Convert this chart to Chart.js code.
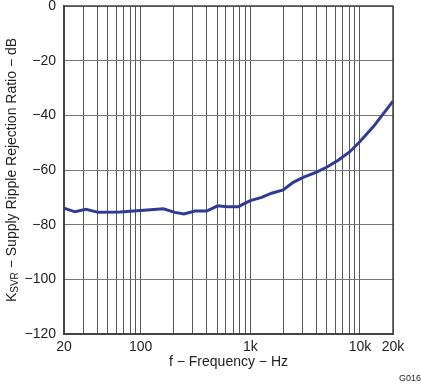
<!DOCTYPE html>
<html><head><meta charset="utf-8">
<script src="https://cdn.jsdelivr.net/npm/chart.js@4"></script>
<style>html,body{margin:0;padding:0;background:#fff}#wrap{width:421px;height:384px;position:relative}</style>
</head><body><div id="wrap"><canvas id="c" width="421" height="384"></canvas></div>
<script>
const freqHz = [20,25.2,31.7,41,64.8,100,161,205,248,313,400,504,608,776,1000,1268,1564,1995,2461,3034,4017,4955,6325,8090,10000,13200,20000];
const ksvrDb = [-74,-75.3,-74.4,-75.5,-75.4,-74.8,-74.2,-75.5,-76.1,-75,-75,-73.1,-73.4,-73.4,-71.2,-70.0,-68.5,-67.3,-64.5,-62.7,-60.8,-59.0,-56.4,-53.3,-49.6,-44.2,-34.8];
const xGridValues = [20,30,40,50,60,70,80,90,100,200,300,400,500,600,700,800,900,1000,2000,3000,4000,5000,6000,7000,8000,9000,10000,20000];
const xTickLabels = {20:'20',100:'100',1000:'1k',10000:'10k',20000:'20k'};
const yTicks = [0,-20,-40,-60,-80,-100,-120];

const FONT = 'Liberation Sans, Arial, sans-serif';

const titlePlugin = {
  id:'titles',
  afterDraw(chart){
    const ctx = chart.ctx, a = chart.chartArea;
    ctx.save();
    ctx.fillStyle = '#222';
    ctx.font = '14px ' + FONT;
    ctx.textAlign = 'center'; ctx.textBaseline = 'middle';
    ctx.fillText('f \u2212 Frequency \u2212 Hz', (a.left + a.right)/2, 362);
    ctx.translate(12, (a.top + a.bottom)/2);
    ctx.rotate(-Math.PI/2);
    const p1 = 'K', p2 = 'SVR', p3 = ' \u2212 Supply Ripple Rejection Ratio \u2212 dB';
    ctx.font = '14px ' + FONT; const w1 = ctx.measureText(p1).width, w3 = ctx.measureText(p3).width;
    ctx.font = '10px ' + FONT; const w2 = ctx.measureText(p2).width;
    let x = -(w1+w2+w3)/2;
    ctx.textAlign = 'left';
    ctx.font = '14px ' + FONT; ctx.fillText(p1, x, 0); x += w1;
    ctx.font = '10px ' + FONT; ctx.fillText(p2, x, 3); x += w2;
    ctx.font = '14px ' + FONT; ctx.fillText(p3, x, 0);
    ctx.restore();
    ctx.save();
    ctx.fillStyle = '#222';
    ctx.font = '9px ' + FONT; ctx.textAlign = 'right'; ctx.textBaseline = 'middle';
    ctx.fillText('G016', 421, 379);
    ctx.restore();
  }
};

new Chart(document.getElementById('c'), {
  type:'line',
  data:{datasets:[{data: freqHz.map((f,i)=>({x:f,y:ksvrDb[i]})), borderColor:'#2f3b94', borderWidth:3, pointRadius:0, tension:0, fill:false}]},
  options:{
    responsive:false, animation:false, devicePixelRatio:1,
    layout:{padding:{top:6,right:28,left:0,bottom:0}},
    plugins:{legend:{display:false}, tooltip:{enabled:false}},
    scales:{
      x:{type:'logarithmic', min:20, max:20000,
        afterBuildTicks(s){ s.ticks = xGridValues.map(v=>({value:v})); },
        afterFit(s){ s.height = 50; s.paddingLeft = 0; s.paddingRight = 0; },
        ticks:{autoSkip:false, maxRotation:0, padding:5, color:'#222', font:{family:FONT,size:14},
          callback:(v)=> xTickLabels[v] || ''},
        grid:{color:'#555', lineWidth:1, drawTicks:false},
        border:{color:'#444', width:2}
      },
      y:{type:'linear', min:-120, max:0,
        afterBuildTicks(s){ s.ticks = yTicks.map(v=>({value:v})); },
        afterFit(s){ s.width = 64; s.paddingTop = 0; s.paddingBottom = 0; },
        ticks:{padding:8, color:'#222', font:{family:FONT,size:14},
          callback:(v)=> v<0 ? '\u2212'+Math.abs(v) : String(v)},
        grid:{color:'#777', lineWidth:1, drawTicks:false},
        border:{color:'#444', width:2}
      }
    }
  },
  plugins:[titlePlugin, {id:'frame', afterDatasetsDraw(chart){const c=chart.ctx,a=chart.chartArea;c.save();c.strokeStyle='#444';c.lineWidth=1.5;c.strokeRect(a.left,a.top,a.right-a.left,a.bottom-a.top);c.restore();}}]
});
</script></body></html>
